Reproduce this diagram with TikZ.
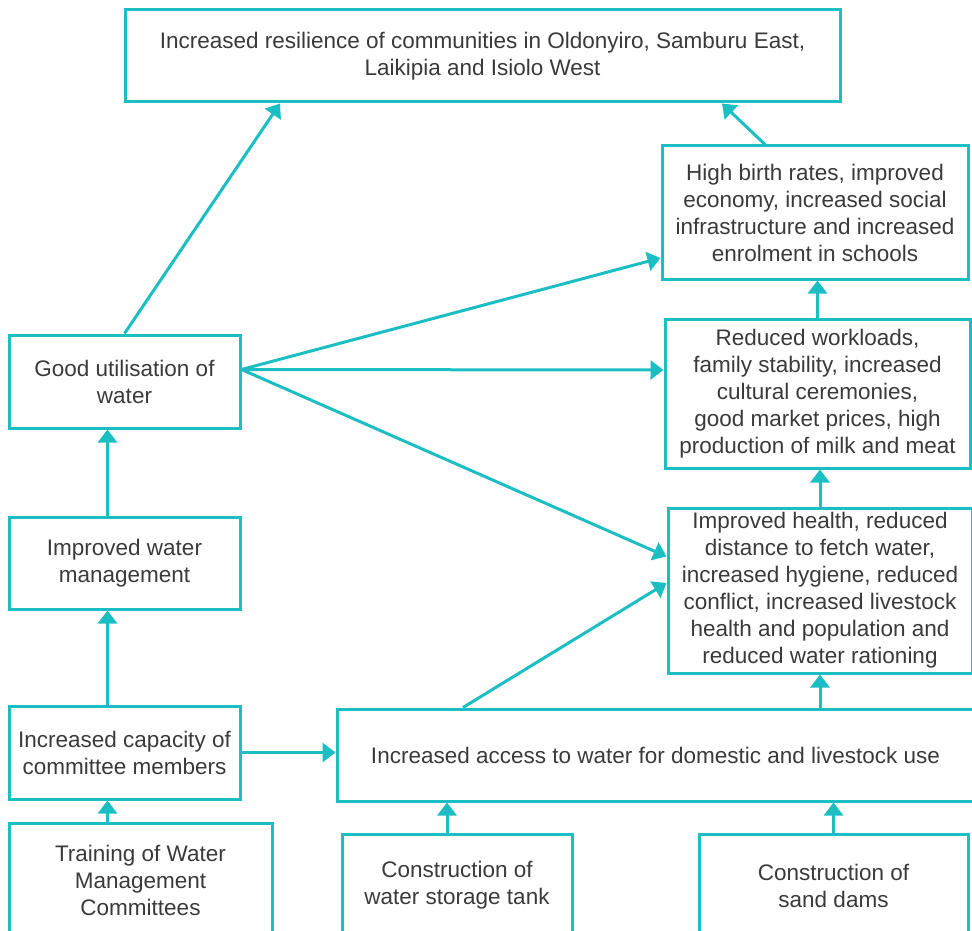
\documentclass[tikz,border=0pt]{standalone}
\usepackage{fontspec}
\setmainfont{Liberation Sans}
\usepackage{tikz}
\usetikzlibrary{arrows.meta,positioning,calc}
\definecolor{flowteal}{RGB}{27,190,194}
\definecolor{txtgrey}{RGB}{58,58,58}

\begin{document}
\begin{tikzpicture}[x=1pt,y=-1pt,
  box/.style={draw=flowteal, line width=3pt, align=center, text=txtgrey, inner sep=0pt,
    font=\fontsize{22.5}{27}\selectfont},
  link/.style={draw=flowteal, line width=3pt, -{Triangle[width=19pt,length=13pt]}}]
  \useasboundingbox (0,0) rectangle (972,931);
  \clip (0,0) rectangle (972,931);
  % outcome chain, right column
  \node[box, minimum width=715pt, minimum height=92pt] (goal) at (482.5,56)
    {Increased resilience of communities in Oldonyiro, Samburu East,\\Laikipia and Isiolo West};
  \node[box, minimum width=306pt, minimum height=133pt] (birth) at (815,212.5)
    {High birth rates, improved\\economy, increased social\\infrastructure and increased\\enrolment in schools};
  \node[box, minimum width=305pt, minimum height=149pt] (work) at (817.5,393.5)
    {Reduced workloads,\\family stability, increased\\cultural ceremonies,\\good market prices, high\\production of milk and meat};
  \node[box, minimum width=304pt, minimum height=165pt] (health) at (820,590.5)
    {Improved health, reduced\\distance to fetch water,\\increased hygiene, reduced\\conflict, increased livestock\\health and population and\\reduced water rationing};
  \node[box, minimum width=637pt, minimum height=92pt] (access) at (655.5,755)
    {Increased access to water for domestic and livestock use};
  % left column
  \node[box, minimum width=231pt, minimum height=93pt] (util) at (124.5,381.5)
    {Good utilisation of\\water};
  \node[box, minimum width=231pt, minimum height=92pt] (mgmt) at (124.5,563)
    {Improved water\\management};
  \node[box, minimum width=231pt, minimum height=93pt] (capacity) at (124.5,752.5)
    {Increased capacity of\\committee members};
  % activities, cut at the bottom
  \node[box, minimum width=263pt, minimum height=114pt] (training) at (140.5,880)
    {Training of Water\\Management\\Committees};
  \node[box, minimum width=230pt, minimum height=102pt] (tank) at (457,885.5)
    {Construction of\\water storage tank};
  \node[box, minimum width=269pt, minimum height=102pt] (sand) at (833.5,885.5)
    {Construction of\\sand dams};

  % links
  \draw[link] (util.north) -- ([xshift=-202.5pt]goal.south);
  \draw[link] ([xshift=-50pt]birth.north) -- ([xshift=239.5pt]goal.south);
  \draw[link] ([yshift=12pt]util.east) -- ([yshift=-45.5pt]birth.west);
  \draw[link] ([yshift=12pt]util.east) -- ([yshift=23.5pt]work.west);
  \draw[link] ([yshift=12pt]util.east) -- ([yshift=34pt]health.west);
  \draw[link] ([xshift=-192.5pt]access.north) -- ([yshift=7.5pt]health.west);
  \draw[link] (work.north) -- (work.north |- birth.south);
  \draw[link] (health.north) -- (health.north |- work.south);
  \draw[link] (health.south |- access.north) -- (health.south);
  \draw[link] ([xshift=-17pt]mgmt.north) -- ([xshift=-17pt]util.south);
  \draw[link] ([xshift=-17pt]capacity.north) -- ([xshift=-17pt]mgmt.south);
  \draw[link] ([xshift=-33pt]training.north) -- ([xshift=-17pt]capacity.south);
  \draw[link] (capacity.east) -- (capacity.east -| access.west);
  \draw[link] ([xshift=-10pt]tank.north) -- ([xshift=-10pt]tank.north |- access.south);
  \draw[link] (sand.north) -- (sand.north |- access.south);
\end{tikzpicture}
\end{document}
